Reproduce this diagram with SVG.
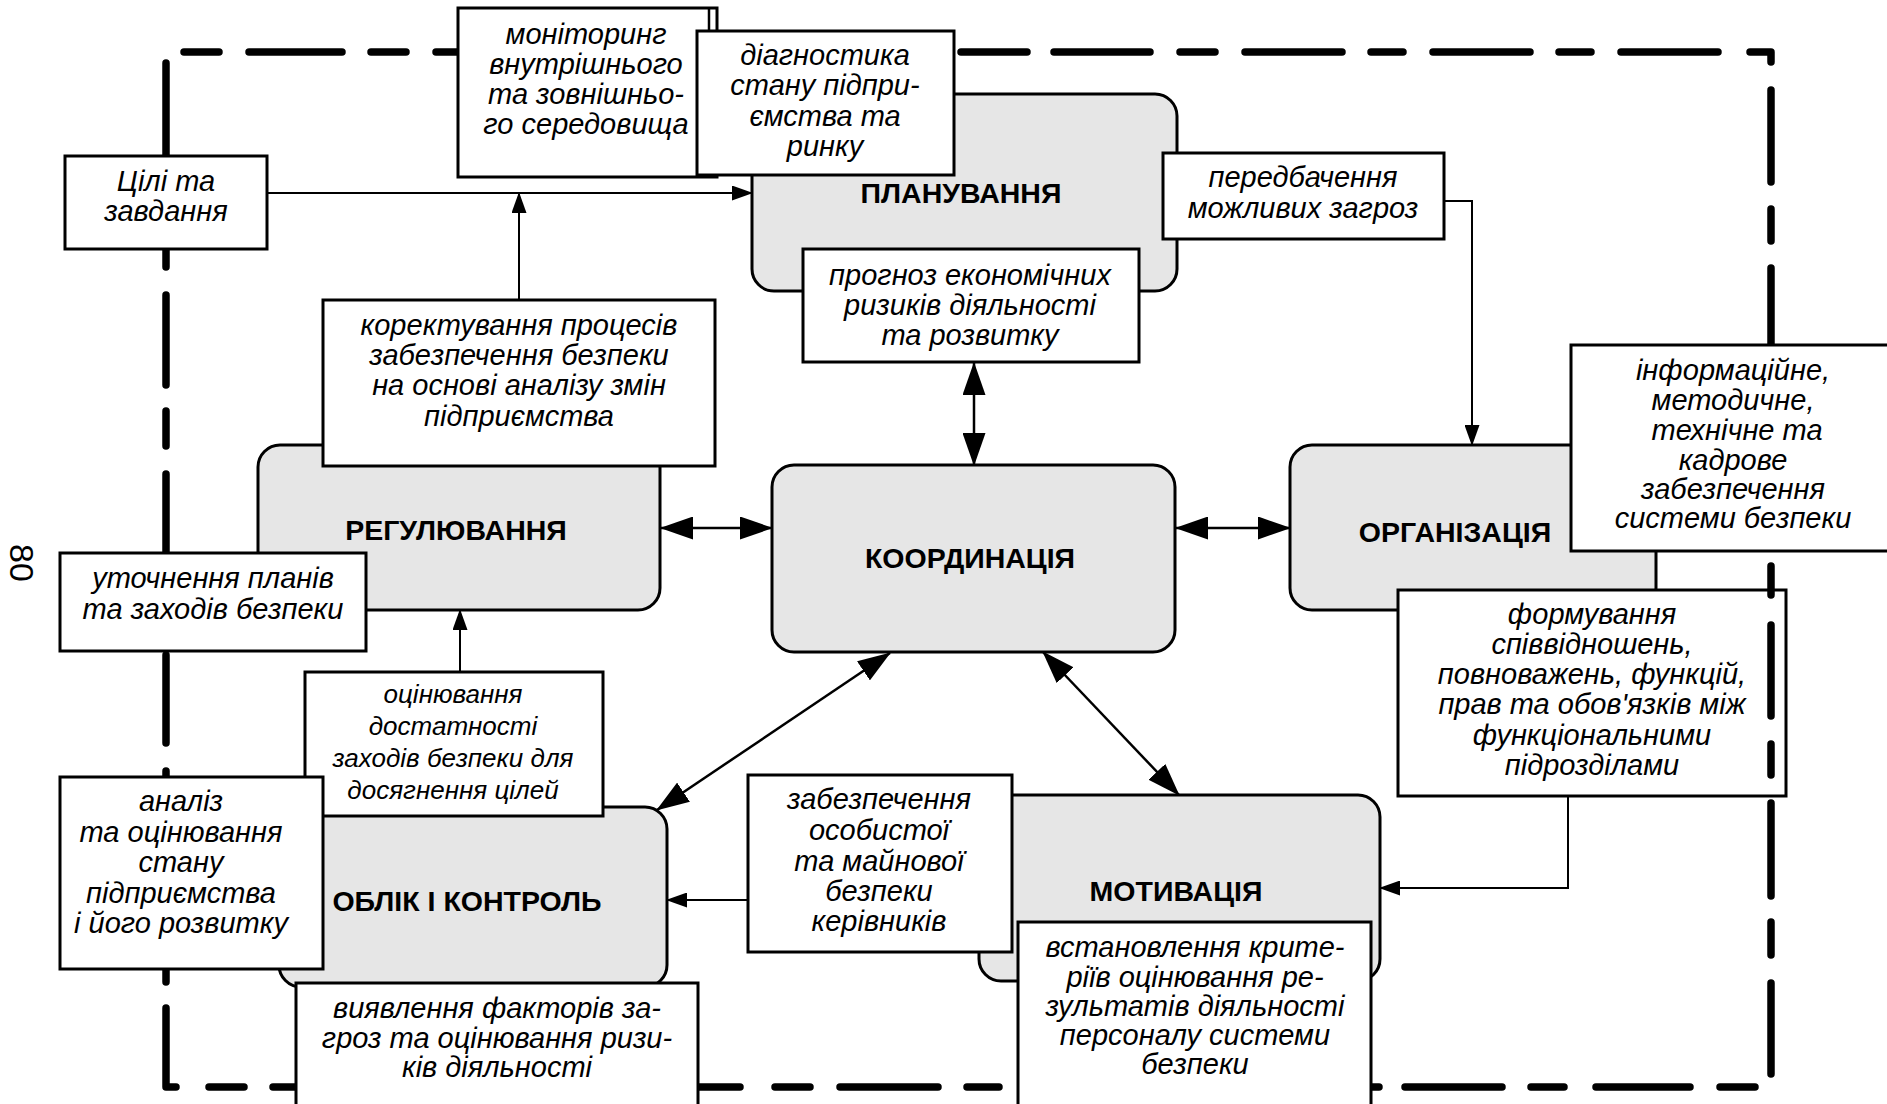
<svg xmlns="http://www.w3.org/2000/svg" width="1887" height="1104" viewBox="0 0 1887 1104">
<style>
.node rect{fill:#e6e6e6;stroke:#000;stroke-width:3}
.lbl rect{fill:#fff;stroke:#000;stroke-width:3}
.h{font-family:"Liberation Sans",Arial,sans-serif;font-weight:bold;font-size:28.5px;text-anchor:middle;fill:#000}
.t{font-family:"Liberation Sans",Arial,sans-serif;font-style:italic;font-size:29px;text-anchor:middle;fill:#000}
.c{font-family:"Liberation Sans",Arial,sans-serif;font-style:italic;font-size:26px;text-anchor:middle;fill:#000}
.conn path{fill:none;stroke:#000;stroke-width:2}
.conn path.dbl{stroke-width:2.5}
.border{fill:none;stroke:#000;stroke-width:7.5;stroke-linecap:round;stroke-linejoin:round}
.pg{font-family:"Liberation Sans",Arial,sans-serif;font-size:34px;text-anchor:middle;fill:#000}
</style>
<defs>
<marker id="ah" markerUnits="userSpaceOnUse" markerWidth="21" markerHeight="15" viewBox="0 0 21 15" refX="20" refY="7.5" orient="auto-start-reverse"><path d="M0,0 L21,7.5 L0,15 z" fill="#000"/></marker>
<marker id="big" markerUnits="userSpaceOnUse" markerWidth="33" markerHeight="23" viewBox="0 0 33 23" refX="32" refY="11.5" orient="auto-start-reverse"><path d="M0,0 L33,11.5 L0,23 z" fill="#000"/></marker>
</defs>
<rect width="1887" height="1104" fill="#fff"/>

<g id="planuvannia" class="node"><rect x="752" y="94" width="425" height="197" rx="22"/><text class="h" x="961" y="203">ПЛАНУВАННЯ</text></g>
<g id="koordynatsiia" class="node"><rect x="772" y="465" width="403" height="187" rx="22"/><text class="h" x="970" y="568">КООРДИНАЦІЯ</text></g>
<g id="rehuliuvannia" class="node"><rect x="258" y="445" width="402" height="165" rx="22"/><text class="h" x="456" y="540">РЕГУЛЮВАННЯ</text></g>
<g id="orhanizatsiia" class="node"><rect x="1290" y="445" width="366" height="165" rx="22"/><text class="h" x="1455" y="542">ОРГАНІЗАЦІЯ</text></g>
<g id="oblik" class="node"><rect x="279" y="807" width="388" height="180" rx="22"/><text class="h" x="467" y="911">ОБЛІК І КОНТРОЛЬ</text></g>
<g id="motyvatsiia" class="node"><rect x="979" y="795" width="401" height="186" rx="22"/><text class="h" x="1176" y="901">МОТИВАЦІЯ</text></g>

<g id="connectors" class="conn">
<path d="M267,193 H752" marker-end="url(#ah)"/>
<path d="M519,300 V193" marker-end="url(#ah)"/>
<path class="dbl" d="M974,363 V465" marker-start="url(#big)" marker-end="url(#big)"/>
<path class="dbl" d="M661,528 H772" marker-start="url(#big)" marker-end="url(#big)"/>
<path class="dbl" d="M1176,528 H1290" marker-start="url(#big)" marker-end="url(#big)"/>
<path d="M1444,201 H1472 V445" marker-end="url(#ah)"/>
<path class="dbl" d="M657,810 L890,653" marker-start="url(#big)" marker-end="url(#big)"/>
<path class="dbl" d="M1043,652 L1179,795" marker-start="url(#big)" marker-end="url(#big)"/>
<path d="M460,672 V610" marker-end="url(#ah)"/>
<path d="M748,900 H667" marker-end="url(#ah)"/>
<path d="M1568,796 V888 H1380" marker-end="url(#ah)"/>
</g>

<g id="formuvannia" class="lbl"><rect x="1398" y="590" width="388" height="206"/>
<text class="t"><tspan x="1592" y="624">формування</tspan><tspan x="1592" y="654">співвідношень,</tspan><tspan x="1592" y="684">повноважень, функцій,</tspan><tspan x="1592" y="714">прав та обов'язків між</tspan><tspan x="1592" y="745">функціональними</tspan><tspan x="1592" y="775">підрозділами</tspan></text></g>

<g id="border">
<path class="border" d="M184,52H219 M249,52H342 M371,52H406 M436,52H532 M961,52H1027 M1054,52H1150 M1180,52H1215 M1245,52H1342 M1371,52H1403 M1433,52H1530 M1559,52H1591 M1621,52H1718 M1750,52H1771V62 M1771,90V182 M1771,209V241 M1771,268V364 M1771,566V595 M1771,625V716 M1771,744V775 M1771,803V896 M1771,922V955 M1771,983V1074 M1755,1087H1720 M1690,1087H1596 M1564,1087H1531 M1502,1087H1405 M1379,1087H1330 M999,1087H967 M938,1087H840 M810,1087H775 M740,1087H640 M320,1087H273 M244,1087H209 M176,1087H166V1008 M166,982V955 M166,806V771 M166,743V655 M166,570V474 M166,446V411 M166,385V295 M166,267V232 M166,160V63"/>
</g>

<g id="monitorynh" class="lbl"><rect x="458" y="8" width="259" height="169"/><path d="M709,8 V177" stroke="#000" stroke-width="2.5"/>
<text class="t"><tspan x="586" y="44">моніторинг</tspan><tspan x="586" y="74">внутрішнього</tspan><tspan x="586" y="104">та зовнішньо-</tspan><tspan x="586" y="134">го середовища</tspan></text></g>
<g id="diahnostyka" class="lbl"><rect x="697" y="31" width="257" height="144"/>
<text class="t"><tspan x="825" y="65">діагностика</tspan><tspan x="825" y="95">стану підпри-</tspan><tspan x="825" y="126">ємства та</tspan><tspan x="825" y="156">ринку</tspan></text></g>
<g id="tsili" class="lbl"><rect x="65" y="156" width="202" height="93"/>
<text class="t"><tspan x="166" y="191">Цілі та</tspan><tspan x="166" y="221">завдання</tspan></text></g>
<g id="peredbachennia" class="lbl"><rect x="1163" y="153" width="281" height="86"/>
<text class="t"><tspan x="1303" y="187">передбачення</tspan><tspan x="1303" y="218">можливих загроз</tspan></text></g>
<g id="prohnoz" class="lbl"><rect x="803" y="249" width="336" height="113"/>
<text class="t"><tspan x="970" y="285">прогноз економічних</tspan><tspan x="970" y="315">ризиків діяльності</tspan><tspan x="970" y="345">та розвитку</tspan></text></g>
<g id="koryhuvannia" class="lbl"><rect x="323" y="300" width="392" height="166"/>
<text class="t"><tspan x="519" y="335">коректування процесів</tspan><tspan x="519" y="365">забезпечення безпеки</tspan><tspan x="519" y="395">на основі аналізу змін</tspan><tspan x="519" y="426">підприємства</tspan></text></g>
<g id="informatsiine" class="lbl"><rect x="1571" y="345" width="330" height="206"/>
<text class="t"><tspan x="1733" y="380">інформаційне,</tspan><tspan x="1733" y="410">методичне,</tspan><tspan x="1737" y="440">технічне та</tspan><tspan x="1733" y="470">кадрове</tspan><tspan x="1733" y="499">забезпечення</tspan><tspan x="1733" y="528">системи безпеки</tspan></text></g>
<g id="utochnennia" class="lbl"><rect x="60" y="553" width="306" height="98"/>
<text class="t"><tspan x="213" y="588">уточнення планів</tspan><tspan x="213" y="619">та заходів безпеки</tspan></text></g>
<g id="otsiniuvannia" class="lbl"><rect x="305" y="672" width="298" height="144"/>
<text class="c"><tspan x="453" y="703">оцінювання</tspan><tspan x="453" y="735">достатності</tspan><tspan x="453" y="767">заходів безпеки для</tspan><tspan x="453" y="799">досягнення цілей</tspan></text></g>
<g id="analiz" class="lbl"><rect x="60" y="777" width="263" height="192"/>
<text class="t"><tspan x="181" y="811">аналіз</tspan><tspan x="181" y="842">та оцінювання</tspan><tspan x="181" y="872">стану</tspan><tspan x="181" y="903">підприємства</tspan><tspan x="181" y="933">і його розвитку</tspan></text></g>
<g id="vyiavlennia" class="lbl"><rect x="296" y="983" width="402" height="130"/>
<text class="t"><tspan x="497" y="1018">виявлення факторів за-</tspan><tspan x="497" y="1048">гроз та оцінювання ризи-</tspan><tspan x="497" y="1077">ків діяльності</tspan></text></g>
<g id="zabezpechennia" class="lbl"><rect x="748" y="775" width="264" height="177"/>
<text class="t"><tspan x="879" y="809">забезпечення</tspan><tspan x="879" y="840">особистої</tspan><tspan x="879" y="871">та майнової</tspan><tspan x="879" y="901">безпеки</tspan><tspan x="879" y="931">керівників</tspan></text></g>
<g id="vstanovlennia" class="lbl"><rect x="1018" y="922" width="353" height="190"/>
<text class="t"><tspan x="1195" y="957">встановлення крите-</tspan><tspan x="1195" y="987">ріїв оцінювання ре-</tspan><tspan x="1195" y="1016">зультатів діяльності</tspan><tspan x="1195" y="1045">персоналу системи</tspan><tspan x="1195" y="1074">безпеки</tspan></text></g>

<text class="pg" transform="translate(10,563) rotate(90)" x="0" y="0">80</text>
</svg>
